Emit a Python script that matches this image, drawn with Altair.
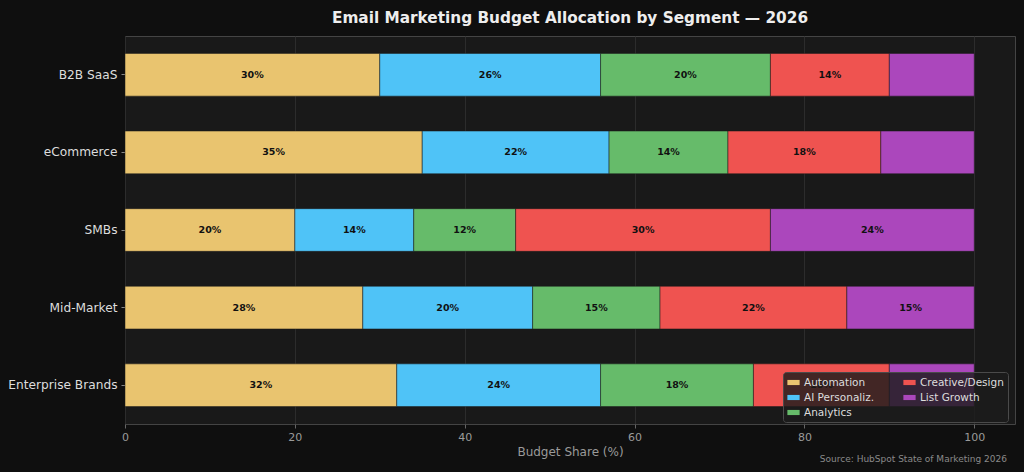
import altair as alt
import pandas as pd

# Budget share per segment (percent), one list per category
segments = ["B2B SaaS", "eCommerce", "SMBs", "Mid-Market", "Enterprise Brands"]
categories = ["Automation", "AI Personaliz.", "Analytics", "Creative/Design", "List Growth"]
automation = [30, 35, 20, 28, 32]
ai_personaliz = [26, 22, 14, 20, 24]
analytics = [20, 14, 12, 15, 18]
creative_design = [14, 18, 30, 22, 16]
list_growth = [10, 11, 24, 15, 10]
colors = ["#E9C46F", "#4FC3F7", "#66BB6A", "#EF5350", "#AB47BC"]
x_ticks = [0, 20, 40, 60, 80, 100]

series = [automation, ai_personaliz, analytics, creative_design, list_growth]
rows = []
for si, seg in enumerate(segments):
    start = 0
    for ci, cat in enumerate(categories):
        v = series[ci][si]
        rows.append({"segment": seg, "category": cat, "order": ci,
                     "value": v, "start": start, "end": start + v,
                     "mid": start + v / 2, "label": f"{v}%"})
        start += v
df = pd.DataFrame(rows)

W, H = 890, 388

y_enc = alt.Y("segment:N", sort=segments, title=None,
              scale=alt.Scale(paddingInner=0.45, paddingOuter=0.225))

bars = alt.Chart(df).mark_bar(stroke="#1a1a1a", strokeWidth=0.5).encode(
    x=alt.X("start:Q", title="Budget Share (%)",
            scale=alt.Scale(domain=[0, 104.8], nice=False, zero=True),
            axis=alt.Axis(values=x_ticks, format="d")),
    x2="end:Q",
    y=y_enc,
    color=alt.Color("category:N",
                    scale=alt.Scale(domain=categories, range=colors),
                    legend=alt.Legend(title=None, orient="none", legendX=658, legendY=336,
                                      columns=2, columnPadding=28, rowPadding=3,
                                      symbolType="M-1,-0.42L1,-0.42L1,0.42L-1,0.42Z",
                                      symbolSize=150, symbolStrokeWidth=0,
                                      labelColor="#dddddd", labelFontSize=10.5,
                                      labelFont="DejaVu Sans",
                                      fillColor="rgba(28,28,28,0.82)", strokeColor="#4a4a4a",
                                      padding=4, cornerRadius=3)),
    order=alt.Order("order:Q"),
)

labels = alt.Chart(df).transform_filter("datum.value >= 12").mark_text(
    fontWeight="bold", fontSize=9.5, color="#111111", font="DejaVu Sans"
).encode(
    x=alt.X("mid:Q"),
    y=alt.Y("segment:N", sort=segments),
    text="label:N",
)

source = alt.Chart(pd.DataFrame({"t": ["Source: HubSpot State of Marketing 2026"]})).mark_text(
    align="right", baseline="middle", fontSize=9, color="#8a8a8a", font="DejaVu Sans"
).encode(x=alt.value(882), y=alt.value(423), text="t:N")

chart = alt.layer(bars, labels, source).properties(
    width=W, height=H,
    background="#0f0f0f",
    padding={"left": 125, "top": 36, "right": 9, "bottom": 48},
    autosize=alt.AutoSizeParams(type="none"),
    title=alt.TitleParams("Email Marketing Budget Allocation by Segment \u2014 2026",
                          fontSize=15.3, fontWeight="bold", color="#eeeeee",
                          font="DejaVu Sans", anchor="middle", offset=10),
).configure_view(
    fill="#191919", stroke="#444444", strokeWidth=1
).configure_axisX(
    grid=True, gridColor="#2c2c2c", gridWidth=1, domain=False,
    tickColor="#666666", tickSize=4, labelColor="#9a9a9a", labelFontSize=11,
    labelFont="DejaVu Sans", titleColor="#9a9a9a", titleFontSize=12,
    titleFont="DejaVu Sans", titleFontWeight="normal", titlePadding=4, labelPadding=3,
    labelFlush=False,
).configure_axisY(
    grid=False, domain=False, tickColor="#888888", tickSize=4,
    labelColor="#dddddd", labelFontSize=12.2, labelFont="DejaVu Sans", labelPadding=4,
)

chart.save("out.html", embed_options={"renderer": "svg", "actions": False})
